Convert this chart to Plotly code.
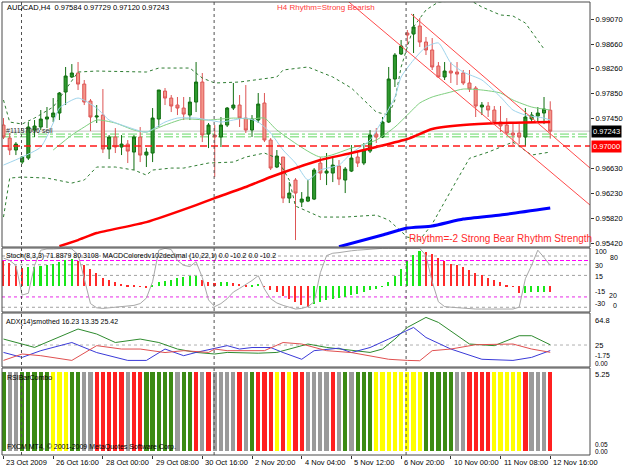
import plotly.graph_objects as go

# ---------------- data ----------------
tick_bars = [0, 8, 16, 24, 32, 40, 48, 56, 64, 72, 80, 88]
tick_labels = ["23 Oct 2009", "26 Oct 16:00", "28 Oct 00:00", "29 Oct 08:00", "30 Oct 16:00",
               "2 Nov 20:00", "4 Nov 04:00", "5 Nov 12:00", "6 Nov 20:00", "10 Nov 00:00",
               "11 Nov 08:00", "12 Nov 16:00"]

opens = [0.97342, 0.97130, 0.96935, 0.96739, 0.96804, 0.97261, 0.97310, 0.97440, 0.97473, 0.97538,
         0.97880, 0.98125, 0.98190, 0.98010, 0.97733, 0.97473, 0.97505, 0.96951, 0.97147, 0.96984,
         0.97032, 0.96902, 0.97147, 0.96853, 0.96886, 0.97440, 0.97896, 0.97782, 0.97668, 0.97619,
         0.97505, 0.97717, 0.98043, 0.97195, 0.97179, 0.97147, 0.97342, 0.97619, 0.97668, 0.97456,
         0.97261, 0.97424, 0.97701, 0.97098, 0.96658, 0.96821, 0.96152, 0.96446, 0.96087, 0.96103,
         0.96136, 0.96723, 0.96560, 0.96560, 0.96674, 0.96446, 0.96592, 0.96821, 0.96723, 0.96918,
         0.97195, 0.97147, 0.97391, 0.98092, 0.98500, 0.98842, 0.98825, 0.98956, 0.98695, 0.98565,
         0.98304, 0.98125, 0.98222, 0.98206, 0.98190, 0.98027, 0.97945, 0.97636, 0.97652, 0.97587,
         0.97391, 0.97342, 0.97212, 0.97212, 0.97147, 0.97440, 0.97489, 0.97538, 0.97584]
highs = [0.97456, 0.97212, 0.97065, 0.96837, 0.97391, 0.97424, 0.97587, 0.97636, 0.97782, 0.97880,
         0.98288, 0.98336, 0.98369, 0.98076, 0.97766, 0.97668, 0.97929, 0.97179, 0.97293, 0.97179,
         0.97098, 0.97179, 0.97310, 0.96967, 0.97619, 0.97913, 0.97945, 0.97831, 0.97799, 0.97799,
         0.97799, 0.98369, 0.98190, 0.97375, 0.97342, 0.97473, 0.97636, 0.98027, 0.97831, 0.97994,
         0.97505, 0.97864, 0.97864, 0.97130, 0.96935, 0.96821, 0.96413, 0.96478, 0.96250, 0.96446,
         0.96641, 0.96821, 0.96886, 0.96821, 0.96772, 0.96658, 0.97016, 0.96902, 0.97049, 0.97261,
         0.97293, 0.97473, 0.98288, 0.98516, 0.98728, 0.98891, 0.99152, 0.99086, 0.98777, 0.98760,
         0.98369, 0.98369, 0.98369, 0.98369, 0.98239, 0.98239, 0.97978, 0.97717, 0.97717, 0.97652,
         0.97652, 0.97456, 0.97375, 0.97358, 0.97619, 0.97554, 0.97636, 0.97799, 0.97729]
lows = [0.97114, 0.96853, 0.96853, 0.96706, 0.96772, 0.97147, 0.97261, 0.97293, 0.97391, 0.97424,
        0.97668, 0.98108, 0.97913, 0.97668, 0.97244, 0.97375, 0.96886, 0.96788, 0.96886, 0.96853,
        0.96723, 0.96609, 0.96739, 0.96658, 0.96739, 0.97310, 0.97668, 0.97554, 0.97505, 0.97424,
        0.97424, 0.97554, 0.97065, 0.96967, 0.96495, 0.96984, 0.97310, 0.97587, 0.97310, 0.97212,
        0.97147, 0.97375, 0.97065, 0.96609, 0.96641, 0.96071, 0.96071, 0.95468, 0.96006, 0.96087,
        0.96120, 0.96446, 0.96364, 0.96413, 0.96364, 0.96234, 0.96576, 0.96658, 0.96690, 0.96886,
        0.97049, 0.97130, 0.97375, 0.97962, 0.98483, 0.98646, 0.98516, 0.98614, 0.98483, 0.98239,
        0.98108, 0.98076, 0.98027, 0.97994, 0.97994, 0.97880, 0.97473, 0.97505, 0.97473, 0.97342,
        0.97228, 0.97179, 0.97016, 0.97032, 0.97000, 0.97391, 0.97407, 0.97358, 0.97120]
closes = [0.97147, 0.96935, 0.97032, 0.96821, 0.97310, 0.97326, 0.97440, 0.97473, 0.97538, 0.97864,
          0.98141, 0.98190, 0.98010, 0.97717, 0.97473, 0.97489, 0.96951, 0.97147, 0.96984, 0.97032,
          0.96918, 0.97147, 0.96853, 0.96902, 0.97456, 0.97913, 0.97782, 0.97652, 0.97619, 0.97521,
          0.97717, 0.98043, 0.97179, 0.97342, 0.97147, 0.97342, 0.97619, 0.97668, 0.97456, 0.97261,
          0.97440, 0.97684, 0.97098, 0.96641, 0.96837, 0.96152, 0.96234, 0.96234, 0.96136, 0.96169,
          0.96609, 0.96560, 0.96592, 0.96690, 0.96462, 0.96625, 0.96804, 0.96723, 0.96935, 0.97179,
          0.97147, 0.97391, 0.98092, 0.98483, 0.98630, 0.98809, 0.98940, 0.98695, 0.98565, 0.98288,
          0.98125, 0.98222, 0.98190, 0.98173, 0.98027, 0.97929, 0.97652, 0.97668, 0.97587, 0.97391,
          0.97326, 0.97212, 0.97179, 0.97147, 0.97473, 0.97505, 0.97538, 0.97603, 0.97243]

# indicator lines on the price panel (bar index, price)
bb_upper_idx = [0, 1, 3, 5, 8, 12, 15, 23, 25, 30, 32, 34, 38, 44, 45, 49, 53, 56, 60, 62, 63, 64,
                66, 68, 70, 75, 77, 80, 82, 84, 87]
bb_upper_val = [0.97750, 0.97391, 0.97359, 0.97456, 0.97636, 0.98206, 0.98222, 0.98206, 0.98271,
                0.98271, 0.98108, 0.98027, 0.98043, 0.98125, 0.98239, 0.98288, 0.98125, 0.97945,
                0.97554, 0.97505, 0.97750, 0.98288, 0.98940, 0.99217, 0.99347, 0.99380, 0.99266,
                0.99135, 0.99119, 0.99005, 0.98581]
bb_lower_idx = [0, 1, 3, 7, 11, 13, 15, 18, 21, 23, 24, 27, 29, 33, 37, 39, 42, 44, 46, 47, 51, 55,
                60, 62, 65, 67, 69, 71, 73, 75, 78, 82, 85, 88]
bb_lower_val = [0.95843, 0.96478, 0.96495, 0.96478, 0.96397, 0.96446, 0.96658, 0.96658, 0.96609,
                0.96527, 0.96609, 0.96641, 0.96641, 0.96723, 0.96739, 0.96821, 0.96886, 0.96804,
                0.96446, 0.96022, 0.95843, 0.95843, 0.95875, 0.95794, 0.95517, 0.95468, 0.95730,
                0.96100, 0.96450, 0.96800, 0.96900, 0.97065, 0.96853, 0.96902]
fast_ma_idx = [0, 3, 6, 8, 9, 12, 15, 17, 20, 23, 26, 28, 31, 33, 35, 37, 39, 41, 43, 45, 47, 49,
               51, 54, 56, 59, 61, 63, 64, 66, 68, 70, 72, 74, 77, 80, 82, 84, 87, 88]
fast_ma_val = [0.96690, 0.96821, 0.96984, 0.97375, 0.97619, 0.97782, 0.97619, 0.97424, 0.97310,
               0.97228, 0.97391, 0.97456, 0.97456, 0.97424, 0.97391, 0.97424, 0.97456, 0.97391,
               0.97212, 0.96935, 0.96723, 0.96446, 0.96609, 0.96690, 0.96886, 0.97098, 0.97424,
               0.97799, 0.98125, 0.98402, 0.98614, 0.98679, 0.98353, 0.98206, 0.98076, 0.97799,
               0.97587, 0.97505, 0.97456, 0.97424]
mid_ma_idx = [8, 11, 13, 15, 18, 21, 23, 26, 29, 33, 37, 40, 42, 44, 51, 56, 60, 63, 65, 67, 69,
              72, 74, 77, 80, 82, 85, 88]
mid_ma_val = [0.96935, 0.97179, 0.97310, 0.97424, 0.97375, 0.97261, 0.97228, 0.97342, 0.97440,
              0.97424, 0.97456, 0.97440, 0.97456, 0.97261, 0.96821, 0.96967, 0.97098, 0.97310,
              0.97505, 0.97701, 0.97799, 0.97880, 0.97929, 0.97913, 0.97864, 0.97750, 0.97636,
              0.97587]
red_ma_idx = [9, 12, 15, 23, 31, 34, 39, 43, 47, 51, 56, 60, 65, 69, 74, 80, 88]
red_ma_val = [0.95370, 0.95468, 0.95582, 0.95761, 0.96038, 0.96152, 0.96332, 0.96495, 0.96641,
              0.96772, 0.96886, 0.96984, 0.97114, 0.97277, 0.97342, 0.97375, 0.97391]
blue_ma_idx = [54, 61, 65, 69, 74, 80, 88]
blue_ma_val = [0.95360, 0.95550, 0.95664, 0.95697, 0.95810, 0.95876, 0.95990]

trend_a_idx = [55.2, 94.4]
trend_a_val = [0.99380, 0.96039]
trend_b_idx = [65.6, 94.4]
trend_b_val = [0.99151, 0.96642]

level_red = 0.97000
level_bid = 0.97243
levels_order = [0.97195, 0.97150]
separators = [2.9, 33.9, 64.8]
price_ticks = [0.99070, 0.98660, 0.98260, 0.97850, 0.97450, 0.96630, 0.96230, 0.95820, 0.95420]

macd_hist = [36, 33, 28, 26, 27, 27.5, 28, 29, 31, 34,
             37, 38, 36, 30, 24, 18, 12, 8, 5, 3,
             2, 1, -1, -3, 2, 5, 7, 9, 11, 13,
             14, 14.5, 9, 6, 4, 5, 6, 4, 3, 1,
             2, 3, -1, -5, -9, -14, -18, -22, -27, -30,
             -26, -23, -20, -18, -16.5, -15, -13, -11, -9, -6,
             -4, -1, 5, 14, 24, 35, 44, 50, 48, 45,
             40, 35, 31, 29, 27, 23, 19, 15, 11, 8,
             5, 2, -1, -10, -9.5, -9, -8.5, -8, -8.6]
stoch_main = [84, 80, 72, 23, 26, 72, 97, 99, 99, 100,
              100, 99, 90, 50, 9, 2, 1, 2, 3, 4,
              5, 6, 9, 18, 45, 97, 100, 98, 80, 72,
              70, 78, 52, 15, 4, 9, 17, 28, 34, 40,
              47, 55, 33, 17, 10, 6, 3, 0, 1, 4,
              12, 60, 88, 92, 93, 95, 96, 97, 98, 99,
              100, 100, 100, 100, 100, 100, 100, 100, 88, 45,
              12, 4, 3, 2, 1, 0, 0, 0, 0, 0,
              0, 0, 0, 3, 50, 72, 97, 85, 71.9]
macd_levels = [42.4, 30, 15, -15, -30]
stoch_levels = [80, 20]

adx_idx = [0, 3, 5, 12, 15, 18, 22, 25, 28, 31, 34, 36, 41, 44, 49, 52, 56, 59, 61, 63, 65, 68,
           70, 73, 75, 79, 83, 85, 88]
adx_val = [34.5, 26.6, 21.2, 50.5, 42.5, 29, 34.5, 29, 18.6, 13.2, 10.7, 13.2, 12, 13.2, 26.6,
           21.2, 16, 13.2, 18.6, 34.5, 53, 69, 61, 39.8, 26.6, 24, 39.8, 39.8, 25.4]
pdi_idx = [0, 3, 6, 11, 15, 20, 23, 26, 29, 31, 36, 38, 40, 43, 45, 48, 50, 54, 56, 59, 62, 66,
           68, 72, 77, 82, 85, 87, 88]
pdi_val = [13.2, 5.3, 16, 29, 13, 0.5, 0.5, 18.6, 8, 13.2, 24, 18.6, 21, 21, 13, 2.3, 16, 20, 13,
           21, 34.5, 53, 37, 18.6, 2.3, 0.5, 5.3, 13.2, 16.2]
mdi_idx = [0, 3, 6, 11, 15, 19, 22, 26, 29, 33, 34, 36, 42, 45, 48, 50, 52, 56, 59, 62, 65, 67,
           69, 72, 76, 79, 82, 85, 88]
mdi_val = [0.5, 10.7, 8, 0.5, 24, 18.6, 18.6, 13, 16, 13.2, 18.6, 16, 16, 29, 26.6, 21, 16, 13, 8,
           2.3, 0.5, 0, 16, 18.6, 25.5, 26.6, 26.6, 18.6, 13.4]
adx_level = 25

rsi_bar_height = 5.25
rsi_states = list("GSSGGGGGYYYGGSSRRRRRSRRGGGGGSGGRSRSSSSRSGRRRYRYRRSSSSRSGSGGGYYYYYYYYGGGGGSSRRRRYYYYYRSSSR")

# right-hand scale labels of the indicator windows: (text, x px, y px, size)
side_labels = [("100", 596, 252, 7), ("80", 611, 257.5, 7), ("30", 596, 265, 7), ("15", 596, 276, 7),
               ("-15", 596, 291.5, 7), ("20", 610, 295.5, 7), ("-30", 596, 303, 7), ("0", 614, 305.5, 7),
               ("64.8", 596, 320, 7.5), ("25", 596, 345, 7.5), ("-1.75", 596, 355.5, 6.5),
               ("0.00", 596, 363, 6.5), ("5.25", 596, 374, 7.5), ("0.05", 596, 444.5, 6.5),
               ("0.00", 596, 451.5, 6.5)]

# ---------------- geometry ----------------
W, H = 625, 469
ML, MR, MT, MB = 2, 32, 2, 14
PW, PH = W - ML - MR, H - MT - MB


def py(Y):
    return (H - MB - Y) / PH


def px(X):
    return (X - ML) / PW


dom_main = [py(247), 1.0]
dom_s1 = [py(312), py(248)]
dom_s2 = [py(367), py(313)]
dom_s3 = [0.0, py(368)]
x_range = [-0.24, 94.40]
FONT = "Liberation Sans"

bars = list(range(len(opens)))
fig = go.Figure()

# price panel
fig.add_trace(go.Scatter(x=bb_upper_idx, y=bb_upper_val, mode="lines",
                         line=dict(color="#2e7d32", width=1, dash="dot"), xaxis="x", yaxis="y"))
fig.add_trace(go.Scatter(x=bb_lower_idx, y=bb_lower_val, mode="lines",
                         line=dict(color="#2e7d32", width=1, dash="dot"), xaxis="x", yaxis="y"))
fig.add_trace(go.Scatter(x=mid_ma_idx, y=mid_ma_val, mode="lines",
                         line=dict(color="#7fcf7f", width=1, shape="spline", smoothing=0.6), xaxis="x", yaxis="y"))
fig.add_trace(go.Scatter(x=fast_ma_idx, y=fast_ma_val, mode="lines",
                         line=dict(color="#9fd4ec", width=1, shape="spline", smoothing=0.6), xaxis="x", yaxis="y"))
fig.add_trace(go.Scatter(x=red_ma_idx, y=red_ma_val, mode="lines",
                         line=dict(color="#ff0000", width=2.5, shape="spline", smoothing=0.5), xaxis="x", yaxis="y"))
fig.add_trace(go.Scatter(x=blue_ma_idx, y=blue_ma_val, mode="lines",
                         line=dict(color="#0000ff", width=3, shape="spline", smoothing=0.5), xaxis="x", yaxis="y"))
fig.add_trace(go.Scatter(x=trend_a_idx, y=trend_a_val, mode="lines",
                         line=dict(color="#ff4a4a", width=1), xaxis="x", yaxis="y"))
fig.add_trace(go.Scatter(x=trend_b_idx, y=trend_b_val, mode="lines",
                         line=dict(color="#ff4a4a", width=1), xaxis="x", yaxis="y"))
fig.add_trace(go.Candlestick(x=bars, open=opens, high=highs, low=lows, close=closes,
                             increasing=dict(line=dict(color="#0f6e0f", width=1), fillcolor="#2f9a2f"),
                             decreasing=dict(line=dict(color="#dd5555", width=1), fillcolor="#f3968a"),
                             whiskerwidth=0, xaxis="x", yaxis="y"))

# stochastic / MACD panel
hist_colors = []
for i, v in enumerate(macd_hist):
    up = i > 0 and v >= macd_hist[i - 1]
    hist_colors.append("#19e619" if up else "#ff2a2a")
fig.add_trace(go.Bar(x=bars, y=macd_hist, marker=dict(color=hist_colors, line=dict(width=0)),
                     width=0.25, xaxis="x2", yaxis="y2"))
fig.add_trace(go.Scatter(x=bars, y=stoch_main, mode="lines", line=dict(color="#a8a8a8", width=1),
                         xaxis="x2", yaxis="y5"))

# ADX panel
fig.add_trace(go.Scatter(x=adx_idx, y=adx_val, mode="lines", line=dict(color="#2e8b2e", width=1),
                         xaxis="x3", yaxis="y3"))
fig.add_trace(go.Scatter(x=pdi_idx, y=pdi_val, mode="lines", line=dict(color="#3a3ad8", width=1),
                         xaxis="x3", yaxis="y3"))
fig.add_trace(go.Scatter(x=mdi_idx, y=mdi_val, mode="lines", line=dict(color="#e05050", width=1),
                         xaxis="x3", yaxis="y3"))

# RSI bar combo panel
state_color = {"G": "#3c8a14", "S": "#9a9a9a", "Y": "#ffff00", "R": "#ff2020"}
fig.add_trace(go.Bar(x=bars, y=[rsi_bar_height for _ in rsi_states],
                     marker=dict(color=[state_color[s] for s in rsi_states], line=dict(width=0)),
                     width=0.68, xaxis="x4", yaxis="y4"))

shapes = []
# horizontal levels
shapes.append(dict(type="line", xref="paper", x0=0, x1=1, yref="y", y0=level_bid, y1=level_bid,
                   line=dict(color="#c4c4c4", width=1), layer="below"))
for lv in levels_order:
    shapes.append(dict(type="line", xref="paper", x0=0, x1=1, yref="y", y0=lv, y1=lv,
                       line=dict(color="#66d966", width=1, dash="dashdot"), layer="below"))
shapes.append(dict(type="line", xref="paper", x0=0, x1=1, yref="y", y0=level_red, y1=level_red,
                   line=dict(color="#ff1a1a", width=1.5, dash="7px,4px")))
for lv in macd_levels:
    shapes.append(dict(type="line", xref="paper", x0=0, x1=1, yref="y2", y0=lv, y1=lv,
                       line=dict(color="#a0a0a0", width=1, dash="dot"), layer="below"))
shapes.append(dict(type="line", xref="paper", x0=0, x1=1, yref="y5", y0=stoch_levels[0], y1=stoch_levels[0],
                   line=dict(color="#ff00ff", width=1, dash="4px,2px"), layer="below"))
shapes.append(dict(type="line", xref="paper", x0=0, x1=1, yref="y5", y0=stoch_levels[1], y1=stoch_levels[1],
                   line=dict(color="#ff80ff", width=1.5, dash="dot"), layer="below"))
shapes.append(dict(type="line", xref="paper", x0=0, x1=1, yref="y3", y0=adx_level, y1=adx_level,
                   line=dict(color="#b0b0b0", width=1, dash="dot"), layer="below"))
# period separators
for s in separators:
    shapes.append(dict(type="line", xref="x", x0=s, x1=s, yref="paper", y0=0, y1=1,
                       line=dict(color="#505050", width=1, dash="dot")))
# panel frames
for d in (dom_main, dom_s1, dom_s2, dom_s3):
    shapes.append(dict(type="rect", xref="paper", x0=0, x1=1, yref="paper", y0=d[0], y1=d[1],
                       line=dict(color="#4a4a4a", width=1), fillcolor="rgba(0,0,0,0)"))

ann = []


def txt(t, X, Y, size=7, color="#000000", anchor="left"):
    ann.append(dict(text=t, xref="paper", yref="paper", x=px(X), y=py(Y), xanchor=anchor,
                    yanchor="middle", showarrow=False, font=dict(family=FONT, size=size, color=color)))


txt("AUDCAD,H4  0.97584 0.97729 0.97120 0.97243", 5, 8, 7.5)
txt("H4 Rhythm=Strong Bearish", 276, 8, 8, "#ff3b3b")
txt("#11137006 sell", 4, 130, 7, "#303030")
txt("Rhythm=-2 Strong Bear Rhythm Strength", 409, 238, 10, "#ff2a2a")
txt("Stoch(8,3,3) 71.8879 80.3108  MACDColoredv102decimal (10,22,1) 0.0 -10.2 0.0 -10.2", 4, 256, 7)
txt("ADX(14)smothed 16.23 13.35 25.42", 4, 322, 7)
txt("RSIBarCombo", 5, 377, 7)
txt("FXCM MT4, \u00a9 2001-2009 MetaQuotes Software Corp.", 5, 447, 7)

for lab, X, Y, sz in side_labels:
    txt(lab, X, Y, sz)

for b, lab in zip(tick_bars, tick_labels):
    ann.append(dict(text=lab, xref="x4", yref="paper", x=b, y=py(462), xanchor="left", xshift=1,
                    yanchor="middle", showarrow=False, font=dict(family=FONT, size=7.5, color="#000000")))

ann.append(dict(text="0.97243", xref="paper", yref="y", x=px(594), y=level_bid, xanchor="left",
                yanchor="middle", showarrow=False, bgcolor="#000000", borderpad=1,
                font=dict(family=FONT, size=7.5, color="#ffffff")))
ann.append(dict(text="0.97000", xref="paper", yref="y", x=px(594), y=level_red, xanchor="left",
                yanchor="middle", showarrow=False, bgcolor="#ff0000", borderpad=1,
                font=dict(family=FONT, size=7.5, color="#ffffff")))

common_x = dict(range=x_range, showgrid=False, zeroline=False, showticklabels=False, fixedrange=True)
fig.update_layout(
    width=W, height=H, margin=dict(l=ML, r=MR, t=MT, b=MB),
    paper_bgcolor="#ffffff", plot_bgcolor="#ffffff", showlegend=False, bargap=0,
    font=dict(family=FONT, size=7.5, color="#000000"),
    xaxis=dict(anchor="y", domain=[0, 1], rangeslider=dict(visible=False), **common_x),
    xaxis2=dict(anchor="y2", matches="x", **common_x),
    xaxis3=dict(anchor="y3", matches="x", **common_x),
    xaxis4=dict(anchor="y4", matches="x", tickvals=tick_bars, ticks="outside", ticklen=3,
                tickcolor="#333333", **common_x),
    yaxis=dict(domain=dom_main, range=[0.95355, 0.99347], side="right", anchor="x",
               tickvals=price_ticks, tickformat=".5f", ticks="outside", ticklen=3, tickcolor="#333333",
               tickfont=dict(family=FONT, size=7.5, color="#000000"), showgrid=False, zeroline=False),
    yaxis2=dict(domain=dom_s1, range=[-36.7, 53.7], anchor="x2", showticklabels=False,
                showgrid=False, zeroline=False),
    yaxis5=dict(overlaying="y2", range=[-4.9, 100.6], anchor="x2", visible=False),
    yaxis3=dict(domain=dom_s2, range=[-10, 76], anchor="x3", showticklabels=False,
                showgrid=False, zeroline=False),
    yaxis4=dict(domain=dom_s3, range=[-0.27, 5.52], anchor="x4", showticklabels=False,
                showgrid=False, zeroline=False),
    shapes=shapes, annotations=ann,
)

fig.write_html("out.html")
